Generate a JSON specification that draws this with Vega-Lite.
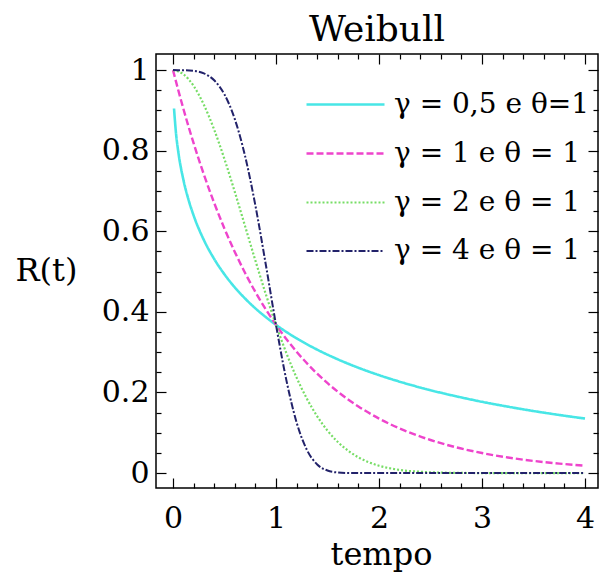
{
  "$schema": "https://vega.github.io/schema/vega-lite/v6.json",
  "width": 442,
  "height": 434,
  "autosize": {"type": "none"},
  "padding": {"left": 156, "top": 54, "right": 5, "bottom": 89},
  "background": "white",
  "title": {"text": "Weibull", "font": "DejaVu Serif", "fontSize": 36, "fontWeight": "normal", "color": "black", "anchor": "middle", "frame": "group", "baseline": "alphabetic", "offset": -24},
  "config": {
    "view": {"stroke": "black", "strokeWidth": 1.5},
    "axis": {"domain": false, "grid": false, "tickColor": "black", "tickWidth": 1.2, "labelFont": "DejaVu Serif", "labelFontSize": 30, "labelColor": "black", "titleFont": "DejaVu Serif", "titleFontSize": 32, "titleFontWeight": "normal", "titleColor": "black", "labelFlush": false, "labelOverlap": false}
  },
  "data": {"values": [
    {"t": 0.01, "R": 0.9048, "g": "γ = 0,5 e θ=1"},
    {"t": 0.03, "R": 0.8410, "g": "γ = 0,5 e θ=1"},
    {"t": 0.05, "R": 0.7996, "g": "γ = 0,5 e θ=1"},
    {"t": 0.1, "R": 0.7289, "g": "γ = 0,5 e θ=1"},
    {"t": 0.15, "R": 0.6789, "g": "γ = 0,5 e θ=1"},
    {"t": 0.2, "R": 0.6394, "g": "γ = 0,5 e θ=1"},
    {"t": 0.3, "R": 0.5783, "g": "γ = 0,5 e θ=1"},
    {"t": 0.4, "R": 0.5313, "g": "γ = 0,5 e θ=1"},
    {"t": 0.5, "R": 0.4931, "g": "γ = 0,5 e θ=1"},
    {"t": 0.6, "R": 0.4609, "g": "γ = 0,5 e θ=1"},
    {"t": 0.7, "R": 0.4332, "g": "γ = 0,5 e θ=1"},
    {"t": 0.8, "R": 0.4088, "g": "γ = 0,5 e θ=1"},
    {"t": 0.9, "R": 0.3873, "g": "γ = 0,5 e θ=1"},
    {"t": 1.0, "R": 0.3679, "g": "γ = 0,5 e θ=1"},
    {"t": 1.2, "R": 0.3344, "g": "γ = 0,5 e θ=1"},
    {"t": 1.4, "R": 0.3063, "g": "γ = 0,5 e θ=1"},
    {"t": 1.6, "R": 0.2823, "g": "γ = 0,5 e θ=1"},
    {"t": 1.8, "R": 0.2614, "g": "γ = 0,5 e θ=1"},
    {"t": 2.0, "R": 0.2431, "g": "γ = 0,5 e θ=1"},
    {"t": 2.25, "R": 0.2231, "g": "γ = 0,5 e θ=1"},
    {"t": 2.5, "R": 0.2057, "g": "γ = 0,5 e θ=1"},
    {"t": 2.75, "R": 0.1905, "g": "γ = 0,5 e θ=1"},
    {"t": 3.0, "R": 0.1769, "g": "γ = 0,5 e θ=1"},
    {"t": 3.25, "R": 0.1649, "g": "γ = 0,5 e θ=1"},
    {"t": 3.5, "R": 0.1540, "g": "γ = 0,5 e θ=1"},
    {"t": 3.75, "R": 0.1442, "g": "γ = 0,5 e θ=1"},
    {"t": 4.0, "R": 0.1353, "g": "γ = 0,5 e θ=1"},
    {"t": 0.0, "R": 1.0, "g": "γ = 1 e θ = 1"},
    {"t": 0.1, "R": 0.9048, "g": "γ = 1 e θ = 1"},
    {"t": 0.2, "R": 0.8187, "g": "γ = 1 e θ = 1"},
    {"t": 0.3, "R": 0.7408, "g": "γ = 1 e θ = 1"},
    {"t": 0.4, "R": 0.6703, "g": "γ = 1 e θ = 1"},
    {"t": 0.5, "R": 0.6065, "g": "γ = 1 e θ = 1"},
    {"t": 0.6, "R": 0.5488, "g": "γ = 1 e θ = 1"},
    {"t": 0.7, "R": 0.4966, "g": "γ = 1 e θ = 1"},
    {"t": 0.8, "R": 0.4493, "g": "γ = 1 e θ = 1"},
    {"t": 0.9, "R": 0.4066, "g": "γ = 1 e θ = 1"},
    {"t": 1.0, "R": 0.3679, "g": "γ = 1 e θ = 1"},
    {"t": 1.2, "R": 0.3012, "g": "γ = 1 e θ = 1"},
    {"t": 1.4, "R": 0.2466, "g": "γ = 1 e θ = 1"},
    {"t": 1.6, "R": 0.2019, "g": "γ = 1 e θ = 1"},
    {"t": 1.8, "R": 0.1653, "g": "γ = 1 e θ = 1"},
    {"t": 2.0, "R": 0.1353, "g": "γ = 1 e θ = 1"},
    {"t": 2.25, "R": 0.1054, "g": "γ = 1 e θ = 1"},
    {"t": 2.5, "R": 0.0821, "g": "γ = 1 e θ = 1"},
    {"t": 2.75, "R": 0.0639, "g": "γ = 1 e θ = 1"},
    {"t": 3.0, "R": 0.0498, "g": "γ = 1 e θ = 1"},
    {"t": 3.25, "R": 0.0388, "g": "γ = 1 e θ = 1"},
    {"t": 3.5, "R": 0.0302, "g": "γ = 1 e θ = 1"},
    {"t": 3.75, "R": 0.0235, "g": "γ = 1 e θ = 1"},
    {"t": 4.0, "R": 0.0183, "g": "γ = 1 e θ = 1"},
    {"t": 0.0, "R": 1.0, "g": "γ = 2 e θ = 1"},
    {"t": 0.1, "R": 0.9900, "g": "γ = 2 e θ = 1"},
    {"t": 0.2, "R": 0.9608, "g": "γ = 2 e θ = 1"},
    {"t": 0.3, "R": 0.9139, "g": "γ = 2 e θ = 1"},
    {"t": 0.4, "R": 0.8521, "g": "γ = 2 e θ = 1"},
    {"t": 0.5, "R": 0.7788, "g": "γ = 2 e θ = 1"},
    {"t": 0.6, "R": 0.6977, "g": "γ = 2 e θ = 1"},
    {"t": 0.7, "R": 0.6126, "g": "γ = 2 e θ = 1"},
    {"t": 0.8, "R": 0.5273, "g": "γ = 2 e θ = 1"},
    {"t": 0.9, "R": 0.4449, "g": "γ = 2 e θ = 1"},
    {"t": 1.0, "R": 0.3679, "g": "γ = 2 e θ = 1"},
    {"t": 1.1, "R": 0.2982, "g": "γ = 2 e θ = 1"},
    {"t": 1.2, "R": 0.2369, "g": "γ = 2 e θ = 1"},
    {"t": 1.3, "R": 0.1845, "g": "γ = 2 e θ = 1"},
    {"t": 1.4, "R": 0.1409, "g": "γ = 2 e θ = 1"},
    {"t": 1.5, "R": 0.1054, "g": "γ = 2 e θ = 1"},
    {"t": 1.6, "R": 0.0773, "g": "γ = 2 e θ = 1"},
    {"t": 1.7, "R": 0.0556, "g": "γ = 2 e θ = 1"},
    {"t": 1.8, "R": 0.0392, "g": "γ = 2 e θ = 1"},
    {"t": 1.9, "R": 0.0271, "g": "γ = 2 e θ = 1"},
    {"t": 2.0, "R": 0.0183, "g": "γ = 2 e θ = 1"},
    {"t": 2.2, "R": 0.0079, "g": "γ = 2 e θ = 1"},
    {"t": 2.4, "R": 0.0032, "g": "γ = 2 e θ = 1"},
    {"t": 2.6, "R": 0.0012, "g": "γ = 2 e θ = 1"},
    {"t": 2.8, "R": 0.0004, "g": "γ = 2 e θ = 1"},
    {"t": 3.0, "R": 0.0001, "g": "γ = 2 e θ = 1"},
    {"t": 3.5, "R": 0.0, "g": "γ = 2 e θ = 1"},
    {"t": 4.0, "R": 0.0, "g": "γ = 2 e θ = 1"},
    {"t": 0.0, "R": 1.0, "g": "γ = 4 e θ = 1"},
    {"t": 0.1, "R": 0.9999, "g": "γ = 4 e θ = 1"},
    {"t": 0.2, "R": 0.9984, "g": "γ = 4 e θ = 1"},
    {"t": 0.3, "R": 0.9919, "g": "γ = 4 e θ = 1"},
    {"t": 0.4, "R": 0.9747, "g": "γ = 4 e θ = 1"},
    {"t": 0.5, "R": 0.9394, "g": "γ = 4 e θ = 1"},
    {"t": 0.6, "R": 0.8785, "g": "γ = 4 e θ = 1"},
    {"t": 0.7, "R": 0.7866, "g": "γ = 4 e θ = 1"},
    {"t": 0.8, "R": 0.6639, "g": "γ = 4 e θ = 1"},
    {"t": 0.9, "R": 0.5189, "g": "γ = 4 e θ = 1"},
    {"t": 1.0, "R": 0.3679, "g": "γ = 4 e θ = 1"},
    {"t": 1.1, "R": 0.2313, "g": "γ = 4 e θ = 1"},
    {"t": 1.2, "R": 0.1257, "g": "γ = 4 e θ = 1"},
    {"t": 1.3, "R": 0.0575, "g": "γ = 4 e θ = 1"},
    {"t": 1.4, "R": 0.0215, "g": "γ = 4 e θ = 1"},
    {"t": 1.5, "R": 0.0063, "g": "γ = 4 e θ = 1"},
    {"t": 1.6, "R": 0.0014, "g": "γ = 4 e θ = 1"},
    {"t": 1.7, "R": 0.0002, "g": "γ = 4 e θ = 1"},
    {"t": 1.8, "R": 0.0, "g": "γ = 4 e θ = 1"},
    {"t": 2.0, "R": 0.0, "g": "γ = 4 e θ = 1"},
    {"t": 2.5, "R": 0.0, "g": "γ = 4 e θ = 1"},
    {"t": 3.0, "R": 0.0, "g": "γ = 4 e θ = 1"},
    {"t": 3.5, "R": 0.0, "g": "γ = 4 e θ = 1"},
    {"t": 4.0, "R": 0.0, "g": "γ = 4 e θ = 1"}
  ]},
  "layer": [
    {
      "mark": {"type": "line", "interpolate": "monotone"},
      "encoding": {
        "x": {"field": "t", "type": "quantitative",
          "scale": {"domain": [-0.165, 4.126], "nice": false, "zero": false},
          "axis": {"orient": "bottom",
            "values": [0, 0.2, 0.4, 0.6, 0.8, 1, 1.2, 1.4, 1.6, 1.8, 2, 2.2, 2.4, 2.6, 2.8, 3, 3.2, 3.4, 3.6, 3.8, 4],
            "tickSize": {"condition": {"test": "abs(datum.value - round(datum.value)) < 0.000001", "value": -10}, "value": -5},
            "labelExpr": "abs(datum.value - round(datum.value)) < 0.000001 ? format(datum.value, 'd') : ''",
            "labelPadding": 25,
            "title": "tempo", "titleX": 225, "titleY": 76, "titleBaseline": "alphabetic"}},
        "y": {"field": "R", "type": "quantitative",
          "scale": {"domain": [-0.037, 1.04], "nice": false, "zero": false},
          "axis": {"orient": "left",
            "values": [0, 0.05, 0.1, 0.15, 0.2, 0.25, 0.3, 0.35, 0.4, 0.45, 0.5, 0.55, 0.6, 0.65, 0.7, 0.75, 0.8, 0.85, 0.9, 0.95, 1],
            "tickSize": {"condition": {"test": "abs(datum.value * 5 - round(datum.value * 5)) < 0.000001", "value": -10}, "value": -5},
            "labelExpr": "abs(datum.value * 5 - round(datum.value * 5)) < 0.000001 ? format(datum.value, '.1~f') : ''",
            "labelPadding": 17, "labelBaseline": "middle",
            "title": "R(t)", "titleAngle": 0, "titleAlign": "left", "titleBaseline": "middle", "titleX": -141, "titleY": 216}},
        "color": {"field": "g", "type": "nominal",
          "scale": {"domain": ["γ = 0,5 e θ=1", "γ = 1 e θ = 1", "γ = 2 e θ = 1", "γ = 4 e θ = 1"], "range": ["#48E6E6", "#EE44CC", "#77DD66", "#22226A"]},
          "legend": {"orient": "none", "legendX": 175, "legendY": 36, "title": null, "symbolType": "M-3,0H3", "symbolSize": 676, "symbolStrokeWidth": 2, "labelFont": "DejaVu Serif", "labelFontSize": 28, "labelColor": "black", "labelOffset": 34, "rowPadding": 20, "labelLimit": 400}},
        "strokeDash": {"field": "g", "type": "nominal",
          "scale": {"domain": ["γ = 0,5 e θ=1", "γ = 1 e θ = 1", "γ = 2 e θ = 1", "γ = 4 e θ = 1"], "range": [[1, 0], [7, 3], [2, 2], [7, 2, 2, 2]]},
          "legend": {"orient": "none", "legendX": 175, "legendY": 36, "title": null, "symbolType": "M-3,0H3", "symbolSize": 676, "symbolStrokeWidth": 2, "labelFont": "DejaVu Serif", "labelFontSize": 28, "labelColor": "black", "labelOffset": 34, "rowPadding": 20, "labelLimit": 400}},
        "strokeWidth": {"field": "g", "type": "nominal",
          "scale": {"domain": ["γ = 0,5 e θ=1", "γ = 1 e θ = 1", "γ = 2 e θ = 1", "γ = 4 e θ = 1"], "range": [2.6, 2, 1.8, 2]},
          "legend": null}
      }
    },
    {
      "mark": {"type": "point", "opacity": 0},
      "encoding": {
        "x": {"field": "t", "type": "quantitative",
          "axis": {"orient": "top", "labels": false, "title": null,
            "values": [0, 0.2, 0.4, 0.6, 0.8, 1, 1.2, 1.4, 1.6, 1.8, 2, 2.2, 2.4, 2.6, 2.8, 3, 3.2, 3.4, 3.6, 3.8, 4],
            "tickSize": {"condition": {"test": "abs(datum.value - round(datum.value)) < 0.000001", "value": -10}, "value": -5}}},
        "y": {"field": "R", "type": "quantitative",
          "axis": {"orient": "right", "labels": false, "title": null,
            "values": [0, 0.05, 0.1, 0.15, 0.2, 0.25, 0.3, 0.35, 0.4, 0.45, 0.5, 0.55, 0.6, 0.65, 0.7, 0.75, 0.8, 0.85, 0.9, 0.95, 1],
            "tickSize": {"condition": {"test": "abs(datum.value * 5 - round(datum.value * 5)) < 0.000001", "value": -10}, "value": -5}}}
      }
    }
  ],
  "resolve": {"axis": {"x": "independent", "y": "independent"}}
}
